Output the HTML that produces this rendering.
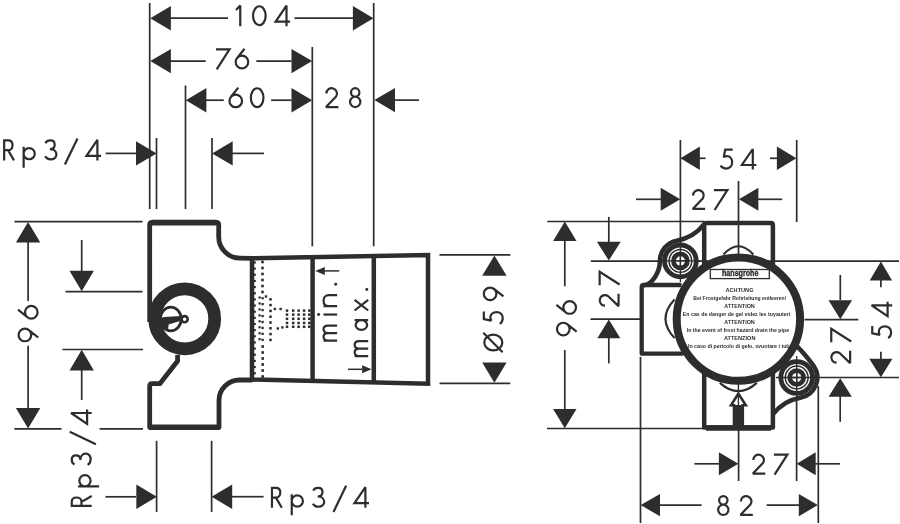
<!DOCTYPE html>
<html><head><meta charset="utf-8"><style>
html,body{margin:0;padding:0;background:#fff;}
svg{display:block;}
</style></head><body>
<svg width="900" height="524" viewBox="0 0 900 524" stroke="#2d2d2d" fill="none" stroke-linecap="butt">
<rect width="900" height="524" fill="#fff" stroke="none"/>
<line x1="149.7" y1="3" x2="149.7" y2="209" stroke-width="1.7"/>
<line x1="156.5" y1="138" x2="156.5" y2="209" stroke-width="1.7"/>
<line x1="185.5" y1="85.5" x2="185.5" y2="209" stroke-width="1.7"/>
<line x1="212" y1="138" x2="212" y2="209" stroke-width="1.7"/>
<line x1="312.3" y1="47" x2="312.3" y2="246.3" stroke-width="1.7"/>
<line x1="373.7" y1="3" x2="373.7" y2="246.3" stroke-width="1.7"/>
<line x1="170" y1="18.2" x2="228" y2="18.2" stroke-width="1.7"/>
<line x1="294.5" y1="18.2" x2="353" y2="18.2" stroke-width="1.7"/>
<polygon points="150.3,18.2 170.9,6 170.9,30.4" stroke="none" fill="#2d2d2d"/>
<polygon points="373.5,18.2 352.9,6 352.9,30.4" stroke="none" fill="#2d2d2d"/>
<path transform="translate(235.1 26.2)" d="M0.9 -16.3L5.15 -20.6V0" fill="none" stroke-width="2.2" stroke-miterlimit="2.2"/>
<path transform="translate(252 26.2)" d="M1.05 -10.5a6.3 9.45 0 1 0 12.6 0a6.3 9.45 0 1 0 -12.6 0" fill="none" stroke-width="2.2" stroke-miterlimit="2.2"/>
<path transform="translate(274.7 26.2)" d="M11.8 0V-20.6L0.9 -4.6H15.4" fill="none" stroke-width="2.2" stroke-miterlimit="2.2"/>
<line x1="170" y1="61.1" x2="205.7" y2="61.1" stroke-width="1.7"/>
<line x1="256.3" y1="61.1" x2="291.5" y2="61.1" stroke-width="1.7"/>
<polygon points="150.3,61.1 170.9,48.9 170.9,73.3" stroke="none" fill="#2d2d2d"/>
<polygon points="312.1,61.1 291.5,48.9 291.5,73.3" stroke="none" fill="#2d2d2d"/>
<path transform="translate(215.4 69.3)" d="M0.6 -19.95H14.1L1.3 0" fill="none" stroke-width="2.2" stroke-miterlimit="2.2"/>
<path transform="translate(234.6 69.3)" d="M1.05 -7.3a6.3 6.3 0 1 0 12.6 0a6.3 6.3 0 1 0 -12.6 0M9.9 -20.6L2.42 -11.23" fill="none" stroke-width="2.2" stroke-miterlimit="2.2"/>
<line x1="206" y1="100.2" x2="223.8" y2="100.2" stroke-width="1.7"/>
<line x1="271.1" y1="100.2" x2="291.5" y2="100.2" stroke-width="1.7"/>
<polygon points="185.8,100.2 206.4,88 206.4,112.4" stroke="none" fill="#2d2d2d"/>
<polygon points="312.1,100.2 291.5,88 291.5,112.4" stroke="none" fill="#2d2d2d"/>
<path transform="translate(228.4 108.2)" d="M1.05 -7.3a6.3 6.3 0 1 0 12.6 0a6.3 6.3 0 1 0 -12.6 0M9.9 -20.6L2.42 -11.23" fill="none" stroke-width="2.2" stroke-miterlimit="2.2"/>
<path transform="translate(249.8 108.2)" d="M1.05 -10.5a6.3 9.45 0 1 0 12.6 0a6.3 9.45 0 1 0 -12.6 0" fill="none" stroke-width="2.2" stroke-miterlimit="2.2"/>
<line x1="394" y1="100.1" x2="419" y2="100.1" stroke-width="1.7"/>
<polygon points="374.4,100.1 395,87.9 395,112.3" stroke="none" fill="#2d2d2d"/>
<path transform="translate(324.9 108.1)" d="M1.5 -14.6A5.3 5.3 0 1 1 11.14 -11.56L1.1 -1.05H13.5" fill="none" stroke-width="2.2" stroke-miterlimit="2.2"/>
<path transform="translate(349 108.1)" d="M2 -15.7a4.2 4.2 0 1 0 8.4 0a4.2 4.2 0 1 0 -8.4 0M1.05 -6.2a5.15 5.15 0 1 0 10.3 0a5.15 5.15 0 1 0 -10.3 0" fill="none" stroke-width="2.2" stroke-miterlimit="2.2"/>
<line x1="105.7" y1="153.4" x2="136.5" y2="153.4" stroke-width="1.7"/>
<polygon points="156.6,153.4 136,141.2 136,165.6" stroke="none" fill="#2d2d2d"/>
<line x1="232" y1="153.4" x2="264" y2="153.4" stroke-width="1.7"/>
<polygon points="212.1,153.4 232.7,141.2 232.7,165.6" stroke="none" fill="#2d2d2d"/>
<path transform="translate(3.1 160.4)" d="M1.05 0V-19.95H5.0C7.8 -19.95 9.4 -17.9 9.4 -15.2C9.4 -12.5 7.8 -10.2 5.0 -10.2H1.05M5.0 -10.2L10.9 0" fill="none" stroke-width="2.2" stroke-miterlimit="2.2"/>
<path transform="translate(22.6 160.4)" d="M1.05 7.4V-13.6M1 -6.75a5.6 5.6 0 1 0 11.2 0a5.6 5.6 0 1 0 -11.2 0" fill="none" stroke-width="2.2" stroke-miterlimit="2.2"/>
<path transform="translate(44.3 160.4)" d="M1.1 -17.2C2.1 -19.4 4.2 -19.95 6.1 -19.95C8.7 -19.95 10.4 -18.2 10.4 -15.7C10.4 -13.1 8.5 -11.3 5.6 -11.3C9.4 -11.3 12.1 -9.1 12.1 -5.9C12.1 -2.9 9.6 -1.05 6.4 -1.05C3.8 -1.05 1.8 -2.3 0.8 -4.1" fill="none" stroke-width="2.2" stroke-miterlimit="2.2"/>
<path transform="translate(64.2 160.4)" d="M13.3 -22L0.7 4.2" fill="none" stroke-width="2.2" stroke-miterlimit="2.2"/>
<path transform="translate(85.6 160.4)" d="M11.8 0V-20.6L0.9 -4.6H15.4" fill="none" stroke-width="2.2" stroke-miterlimit="2.2"/>
<line x1="14.5" y1="221.7" x2="142.5" y2="221.7" stroke-width="1.7"/>
<line x1="14.3" y1="428.9" x2="61.5" y2="428.9" stroke-width="1.7"/>
<line x1="99.6" y1="428.9" x2="143" y2="428.9" stroke-width="1.7"/>
<line x1="28.1" y1="242" x2="28.1" y2="301" stroke-width="1.7"/>
<line x1="28.1" y1="345.8" x2="28.1" y2="408" stroke-width="1.7"/>
<polygon points="28.1,221.9 15.9,242.5 40.3,242.5" stroke="none" fill="#2d2d2d"/>
<polygon points="28.1,428.5 15.9,407.9 40.3,407.9" stroke="none" fill="#2d2d2d"/>
<path transform="translate(38.6 342.3) rotate(-90)" d="M1.05 -13.7a6.3 6.3 0 1 0 12.6 0a6.3 6.3 0 1 0 -12.6 0M4.8 -0.4L12.28 -9.77" fill="none" stroke-width="2.2" stroke-miterlimit="2.2"/>
<path transform="translate(38.6 319.6) rotate(-90)" d="M1.05 -7.3a6.3 6.3 0 1 0 12.6 0a6.3 6.3 0 1 0 -12.6 0M9.9 -20.6L2.42 -11.23" fill="none" stroke-width="2.2" stroke-miterlimit="2.2"/>
<line x1="65.5" y1="291.7" x2="142.5" y2="291.7" stroke-width="1.7"/>
<line x1="62.4" y1="349.5" x2="143" y2="349.5" stroke-width="1.7"/>
<line x1="81.7" y1="240" x2="81.7" y2="271" stroke-width="1.7"/>
<polygon points="81.7,291.3 69.5,270.7 93.9,270.7" stroke="none" fill="#2d2d2d"/>
<line x1="81.7" y1="369" x2="81.7" y2="400" stroke-width="1.7"/>
<polygon points="81.7,349.8 69.5,370.4 93.9,370.4" stroke="none" fill="#2d2d2d"/>
<path transform="translate(91.7 506.9) rotate(-90)" d="M1.05 0V-19.95H5.0C7.8 -19.95 9.4 -17.9 9.4 -15.2C9.4 -12.5 7.8 -10.2 5.0 -10.2H1.05M5.0 -10.2L10.9 0" fill="none" stroke-width="2.2" stroke-miterlimit="2.2"/>
<path transform="translate(91.7 487.4) rotate(-90)" d="M1.05 7.4V-13.6M1 -6.75a5.6 5.6 0 1 0 11.2 0a5.6 5.6 0 1 0 -11.2 0" fill="none" stroke-width="2.2" stroke-miterlimit="2.2"/>
<path transform="translate(91.7 465.7) rotate(-90)" d="M1.1 -17.2C2.1 -19.4 4.2 -19.95 6.1 -19.95C8.7 -19.95 10.4 -18.2 10.4 -15.7C10.4 -13.1 8.5 -11.3 5.6 -11.3C9.4 -11.3 12.1 -9.1 12.1 -5.9C12.1 -2.9 9.6 -1.05 6.4 -1.05C3.8 -1.05 1.8 -2.3 0.8 -4.1" fill="none" stroke-width="2.2" stroke-miterlimit="2.2"/>
<path transform="translate(91.7 445) rotate(-90)" d="M13.3 -22L0.7 4.2" fill="none" stroke-width="2.2" stroke-miterlimit="2.2"/>
<path transform="translate(91.7 424.8) rotate(-90)" d="M11.8 0V-20.6L0.9 -4.6H15.4" fill="none" stroke-width="2.2" stroke-miterlimit="2.2"/>
<line x1="156.6" y1="440.8" x2="156.6" y2="511.9" stroke-width="1.7"/>
<line x1="211.6" y1="440.8" x2="211.6" y2="511.9" stroke-width="1.7"/>
<line x1="105.5" y1="496.8" x2="136" y2="496.8" stroke-width="1.7"/>
<polygon points="156.9,496.8 136.3,484.6 136.3,509" stroke="none" fill="#2d2d2d"/>
<line x1="232" y1="496.7" x2="263.6" y2="496.7" stroke-width="1.7"/>
<polygon points="211.6,496.7 232.2,484.5 232.2,508.9" stroke="none" fill="#2d2d2d"/>
<path transform="translate(270.9 507.8)" d="M1.05 0V-19.95H5.0C7.8 -19.95 9.4 -17.9 9.4 -15.2C9.4 -12.5 7.8 -10.2 5.0 -10.2H1.05M5.0 -10.2L10.9 0" fill="none" stroke-width="2.2" stroke-miterlimit="2.2"/>
<path transform="translate(290.7 507.8)" d="M1.05 7.4V-13.6M1 -6.75a5.6 5.6 0 1 0 11.2 0a5.6 5.6 0 1 0 -11.2 0" fill="none" stroke-width="2.2" stroke-miterlimit="2.2"/>
<path transform="translate(312.1 507.8)" d="M1.1 -17.2C2.1 -19.4 4.2 -19.95 6.1 -19.95C8.7 -19.95 10.4 -18.2 10.4 -15.7C10.4 -13.1 8.5 -11.3 5.6 -11.3C9.4 -11.3 12.1 -9.1 12.1 -5.9C12.1 -2.9 9.6 -1.05 6.4 -1.05C3.8 -1.05 1.8 -2.3 0.8 -4.1" fill="none" stroke-width="2.2" stroke-miterlimit="2.2"/>
<path transform="translate(332.8 507.8)" d="M13.3 -22L0.7 4.2" fill="none" stroke-width="2.2" stroke-miterlimit="2.2"/>
<path transform="translate(353.6 507.8)" d="M11.8 0V-20.6L0.9 -4.6H15.4" fill="none" stroke-width="2.2" stroke-miterlimit="2.2"/>
<line x1="439.5" y1="254.9" x2="510.3" y2="254.9" stroke-width="1.7"/>
<line x1="439.5" y1="383.3" x2="510.3" y2="383.3" stroke-width="1.7"/>
<polygon points="494.4,255.6 482.2,275.7 506.6,275.7" stroke="none" fill="#2d2d2d"/>
<polygon points="494.4,382.7 482.2,362.6 506.6,362.6" stroke="none" fill="#2d2d2d"/>
<path transform="translate(503.8 352.5) rotate(-90)" d="M2.1 -10.5a7.9 9 0 1 0 15.8 0a7.9 9 0 1 0 -15.8 0M0.3 -1.2L19.7 -20.5" fill="none" stroke-width="2.2" stroke-miterlimit="2.2"/>
<path transform="translate(503.8 324.9) rotate(-90)" d="M13.3 -19.95H5.8L4.3 -12.4C5.3 -13.1 6.3 -13.4 7.4 -13.4C10.7 -13.4 12.75 -10.8 12.75 -7.2C12.75 -3.5 10.3 -1.05 7.0 -1.05C4.4 -1.05 2.3 -2.3 1.1 -4.0" fill="none" stroke-width="2.2" stroke-miterlimit="2.2"/>
<path transform="translate(503.8 301.2) rotate(-90)" d="M1.05 -13.7a6.3 6.3 0 1 0 12.6 0a6.3 6.3 0 1 0 -12.6 0M4.8 -0.4L12.28 -9.77" fill="none" stroke-width="2.2" stroke-miterlimit="2.2"/>
<path d="M252.3 258.4 L240.2 258.2 A21.5 21.5 0 0 1 218.7 236.7 V224.8 Q218.7 222.5 216.4 222.5 H152 Q149.7 222.5 149.7 224.8 V322" fill="none" stroke-width="4.8" stroke-linejoin="round"/>
<path d="M177.6 355 V361 L159.8 383.7 H152 Q149.7 383.7 149.7 386 V427.5 H219 V400.5 A20.5 20.5 0 0 1 239.5 380 H252.3" fill="none" stroke-width="4.8" stroke-linejoin="round"/>
<path d="M152 222.6 H216.4 M152 427.3 H217" stroke-width="5.6"/>
<circle cx="184.7" cy="318.8" r="30" fill="none" stroke-width="12.8"/>
<ellipse cx="170.8" cy="319" rx="10.4" ry="11.9" fill="none" stroke-width="2.8"/>
<circle cx="184.6" cy="319.2" r="3.1" fill="none" stroke-width="2.6"/>
<polygon points="164.6,316.9 180.5,315.9 181.5,320.4 168.6,324.4 168,331 160.3,327 160.3,318" stroke="none" fill="#2d2d2d"/>
<path d="M252 258.26 L428 254.92 L428 383.7 L252 379.56 Z" fill="none" stroke-width="4.5" stroke-linejoin="miter"/>
<line x1="312.6" y1="257.11" x2="312.6" y2="380.99" stroke-width="4.5"/>
<line x1="373.8" y1="255.95" x2="373.8" y2="382.43" stroke-width="4.5"/>
<rect x="253.6" y="261.4" width="2.2" height="2.2" stroke="none" fill="#2d2d2d"/>
<rect x="253.6" y="267.55" width="2.2" height="2.2" stroke="none" fill="#2d2d2d"/>
<rect x="253.6" y="273.7" width="2.2" height="2.2" stroke="none" fill="#2d2d2d"/>
<rect x="253.6" y="279.85" width="2.2" height="2.2" stroke="none" fill="#2d2d2d"/>
<rect x="253.6" y="286" width="2.2" height="2.2" stroke="none" fill="#2d2d2d"/>
<rect x="253.6" y="292.15" width="2.2" height="2.2" stroke="none" fill="#2d2d2d"/>
<rect x="253.6" y="298.3" width="2.2" height="2.2" stroke="none" fill="#2d2d2d"/>
<rect x="253.6" y="304.45" width="2.2" height="2.2" stroke="none" fill="#2d2d2d"/>
<rect x="253.6" y="310.6" width="2.2" height="2.2" stroke="none" fill="#2d2d2d"/>
<rect x="253.6" y="316.75" width="2.2" height="2.2" stroke="none" fill="#2d2d2d"/>
<rect x="253.6" y="322.9" width="2.2" height="2.2" stroke="none" fill="#2d2d2d"/>
<rect x="253.6" y="329.05" width="2.2" height="2.2" stroke="none" fill="#2d2d2d"/>
<rect x="253.6" y="335.2" width="2.2" height="2.2" stroke="none" fill="#2d2d2d"/>
<rect x="253.6" y="341.35" width="2.2" height="2.2" stroke="none" fill="#2d2d2d"/>
<rect x="253.6" y="347.5" width="2.2" height="2.2" stroke="none" fill="#2d2d2d"/>
<rect x="253.6" y="353.65" width="2.2" height="2.2" stroke="none" fill="#2d2d2d"/>
<rect x="253.6" y="359.8" width="2.2" height="2.2" stroke="none" fill="#2d2d2d"/>
<rect x="253.6" y="365.95" width="2.2" height="2.2" stroke="none" fill="#2d2d2d"/>
<rect x="253.6" y="372.1" width="2.2" height="2.2" stroke="none" fill="#2d2d2d"/>
<rect x="261.2" y="260.7" width="2.6" height="2.6" stroke="none" fill="#2d2d2d"/>
<rect x="261.2" y="266.7" width="2.6" height="2.6" stroke="none" fill="#2d2d2d"/>
<rect x="261.2" y="272.7" width="2.6" height="2.6" stroke="none" fill="#2d2d2d"/>
<rect x="261.2" y="278.7" width="2.6" height="2.6" stroke="none" fill="#2d2d2d"/>
<rect x="261.2" y="284.7" width="2.6" height="2.6" stroke="none" fill="#2d2d2d"/>
<rect x="261.2" y="290.7" width="2.6" height="2.6" stroke="none" fill="#2d2d2d"/>
<rect x="258.5" y="296.4" width="2.2" height="2.2" stroke="none" fill="#2d2d2d"/>
<rect x="261.45" y="297.05" width="2.3" height="2.3" stroke="none" fill="#2d2d2d"/>
<rect x="269.25" y="298.05" width="2.5" height="2.5" stroke="none" fill="#2d2d2d"/>
<rect x="258.5" y="302.35" width="2.2" height="2.2" stroke="none" fill="#2d2d2d"/>
<rect x="261.45" y="303" width="2.3" height="2.3" stroke="none" fill="#2d2d2d"/>
<rect x="269.25" y="303.85" width="2.5" height="2.5" stroke="none" fill="#2d2d2d"/>
<rect x="258.5" y="308.3" width="2.2" height="2.2" stroke="none" fill="#2d2d2d"/>
<rect x="261.45" y="308.95" width="2.3" height="2.3" stroke="none" fill="#2d2d2d"/>
<rect x="269.25" y="309.65" width="2.5" height="2.5" stroke="none" fill="#2d2d2d"/>
<rect x="258.5" y="314.25" width="2.2" height="2.2" stroke="none" fill="#2d2d2d"/>
<rect x="261.45" y="314.9" width="2.3" height="2.3" stroke="none" fill="#2d2d2d"/>
<rect x="269.25" y="315.45" width="2.5" height="2.5" stroke="none" fill="#2d2d2d"/>
<rect x="258.5" y="320.2" width="2.2" height="2.2" stroke="none" fill="#2d2d2d"/>
<rect x="261.45" y="320.85" width="2.3" height="2.3" stroke="none" fill="#2d2d2d"/>
<rect x="269.25" y="321.25" width="2.5" height="2.5" stroke="none" fill="#2d2d2d"/>
<rect x="258.5" y="326.15" width="2.2" height="2.2" stroke="none" fill="#2d2d2d"/>
<rect x="261.45" y="326.8" width="2.3" height="2.3" stroke="none" fill="#2d2d2d"/>
<rect x="269.25" y="327.05" width="2.5" height="2.5" stroke="none" fill="#2d2d2d"/>
<rect x="258.5" y="332.1" width="2.2" height="2.2" stroke="none" fill="#2d2d2d"/>
<rect x="261.45" y="332.75" width="2.3" height="2.3" stroke="none" fill="#2d2d2d"/>
<rect x="269.25" y="332.85" width="2.5" height="2.5" stroke="none" fill="#2d2d2d"/>
<rect x="258.5" y="338.05" width="2.2" height="2.2" stroke="none" fill="#2d2d2d"/>
<rect x="261.45" y="338.7" width="2.3" height="2.3" stroke="none" fill="#2d2d2d"/>
<rect x="269.25" y="338.65" width="2.5" height="2.5" stroke="none" fill="#2d2d2d"/>
<rect x="261.4" y="345.2" width="2.6" height="2.6" stroke="none" fill="#2d2d2d"/>
<rect x="261.4" y="351.2" width="2.6" height="2.6" stroke="none" fill="#2d2d2d"/>
<rect x="261.4" y="357.2" width="2.6" height="2.6" stroke="none" fill="#2d2d2d"/>
<rect x="261.4" y="363.2" width="2.6" height="2.6" stroke="none" fill="#2d2d2d"/>
<rect x="261.4" y="369.2" width="2.6" height="2.6" stroke="none" fill="#2d2d2d"/>
<rect x="261.4" y="375.2" width="2.6" height="2.6" stroke="none" fill="#2d2d2d"/>
<rect x="264.8" y="295.3" width="2.4" height="2.4" stroke="none" fill="#2d2d2d"/>
<rect x="273.7" y="307.8" width="2.4" height="2.4" stroke="none" fill="#2d2d2d"/>
<rect x="279.4" y="307.8" width="2.4" height="2.4" stroke="none" fill="#2d2d2d"/>
<rect x="276.6" y="327.3" width="2.4" height="2.4" stroke="none" fill="#2d2d2d"/>
<rect x="281.2" y="326.2" width="2.4" height="2.4" stroke="none" fill="#2d2d2d"/>
<rect x="285.75" y="309.35" width="2.5" height="2.5" stroke="none" fill="#2d2d2d"/>
<rect x="285.75" y="313.35" width="2.5" height="2.5" stroke="none" fill="#2d2d2d"/>
<rect x="285.75" y="317.55" width="2.5" height="2.5" stroke="none" fill="#2d2d2d"/>
<rect x="285.75" y="321.75" width="2.5" height="2.5" stroke="none" fill="#2d2d2d"/>
<rect x="285.75" y="325.55" width="2.5" height="2.5" stroke="none" fill="#2d2d2d"/>
<rect x="291.95" y="309.35" width="2.5" height="2.5" stroke="none" fill="#2d2d2d"/>
<rect x="291.95" y="313.35" width="2.5" height="2.5" stroke="none" fill="#2d2d2d"/>
<rect x="291.95" y="317.55" width="2.5" height="2.5" stroke="none" fill="#2d2d2d"/>
<rect x="291.95" y="321.75" width="2.5" height="2.5" stroke="none" fill="#2d2d2d"/>
<rect x="291.95" y="325.55" width="2.5" height="2.5" stroke="none" fill="#2d2d2d"/>
<rect x="297.35" y="309.35" width="2.5" height="2.5" stroke="none" fill="#2d2d2d"/>
<rect x="297.35" y="313.35" width="2.5" height="2.5" stroke="none" fill="#2d2d2d"/>
<rect x="297.35" y="317.55" width="2.5" height="2.5" stroke="none" fill="#2d2d2d"/>
<rect x="297.35" y="321.75" width="2.5" height="2.5" stroke="none" fill="#2d2d2d"/>
<rect x="297.35" y="325.55" width="2.5" height="2.5" stroke="none" fill="#2d2d2d"/>
<rect x="302.85" y="309.35" width="2.5" height="2.5" stroke="none" fill="#2d2d2d"/>
<rect x="302.85" y="313.35" width="2.5" height="2.5" stroke="none" fill="#2d2d2d"/>
<rect x="302.85" y="317.55" width="2.5" height="2.5" stroke="none" fill="#2d2d2d"/>
<rect x="302.85" y="321.75" width="2.5" height="2.5" stroke="none" fill="#2d2d2d"/>
<rect x="302.85" y="325.55" width="2.5" height="2.5" stroke="none" fill="#2d2d2d"/>
<rect x="308.05" y="309.35" width="2.5" height="2.5" stroke="none" fill="#2d2d2d"/>
<rect x="308.05" y="313.35" width="2.5" height="2.5" stroke="none" fill="#2d2d2d"/>
<rect x="308.05" y="317.55" width="2.5" height="2.5" stroke="none" fill="#2d2d2d"/>
<rect x="308.05" y="321.75" width="2.5" height="2.5" stroke="none" fill="#2d2d2d"/>
<rect x="308.05" y="325.55" width="2.5" height="2.5" stroke="none" fill="#2d2d2d"/>
<line x1="324" y1="270.9" x2="339.2" y2="270.9" stroke-width="1.5"/>
<polygon points="315.3,270.9 324.8,266.9 324.8,274.9" stroke="none" fill="#2d2d2d"/>
<line x1="348" y1="369.3" x2="362" y2="369.3" stroke-width="1.5"/>
<polygon points="371.6,369.3 362.1,365.3 362.1,373.3" stroke="none" fill="#2d2d2d"/>
<path transform="translate(337.1 341.7) rotate(-90)" d="M1.05 0V-13.6M1.05 -9.3C1.05 -12.1 2.6 -13.55 4.85 -13.55C7.1 -13.55 8.6 -12.1 8.6 -9.3V0M8.6 -9.3C8.6 -12.1 10.1 -13.55 12.4 -13.55C14.6 -13.55 16.15 -12.1 16.15 -9.3V0" fill="none" stroke-width="2.2" stroke-miterlimit="2.2"/>
<path transform="translate(337.1 315.6) rotate(-90)" d="M1.05 0V-13.6" fill="none" stroke-width="2.2" stroke-miterlimit="2.2"/>
<circle transform="translate(337.1 315.6) rotate(-90)" cx="1.05" cy="-18.5" r="1.45" stroke="none" fill="#2d2d2d"/>
<path transform="translate(337.1 307.2) rotate(-90)" d="M1.05 0V-13.6M1.05 -8.3C1.05 -11.7 3.2 -13.55 6.55 -13.55C9.9 -13.55 12.05 -11.7 12.05 -8.3V0" fill="none" stroke-width="2.2" stroke-miterlimit="2.2"/>
<circle transform="translate(337.1 285.6) rotate(-90)" cx="1.4" cy="-1.4" r="1.45" stroke="none" fill="#2d2d2d"/>
<path transform="translate(368.2 357.2) rotate(-90)" d="M1.05 0V-13.6M1.05 -9.3C1.05 -12.1 2.6 -13.55 4.85 -13.55C7.1 -13.55 8.6 -12.1 8.6 -9.3V0M8.6 -9.3C8.6 -12.1 10.1 -13.55 12.4 -13.55C14.6 -13.55 16.15 -12.1 16.15 -9.3V0" fill="none" stroke-width="2.2" stroke-miterlimit="2.2"/>
<path transform="translate(368.2 331) rotate(-90)" d="M1.05 -6.8a4.85 5.75 0 1 0 9.7 0a4.85 5.75 0 1 0 -9.7 0M10.85 -13.6V0" fill="none" stroke-width="2.2" stroke-miterlimit="2.2"/>
<path transform="translate(368.2 311.3) rotate(-90)" d="M0.8 -13.6L11.4 0M11.4 -13.6L0.8 0" fill="none" stroke-width="2.2" stroke-miterlimit="2.2"/>
<circle transform="translate(368.2 290.9) rotate(-90)" cx="1.4" cy="-1.4" r="1.45" stroke="none" fill="#2d2d2d"/>
<line x1="680.4" y1="140" x2="680.4" y2="262" stroke-width="1.7"/>
<line x1="796.7" y1="140" x2="796.7" y2="222" stroke-width="1.7"/>
<line x1="738.5" y1="181" x2="738.5" y2="255" stroke-width="1.7"/>
<polygon points="680.4,158.3 699.9,146.6 699.9,170" stroke="none" fill="#2d2d2d"/>
<line x1="699" y1="158.3" x2="705.6" y2="158.3" stroke-width="1.7"/>
<polygon points="796.4,158.3 776.9,146.6 776.9,170" stroke="none" fill="#2d2d2d"/>
<line x1="770" y1="158.3" x2="777.5" y2="158.3" stroke-width="1.7"/>
<path transform="translate(719.4 169.6)" d="M13.3 -19.95H5.8L4.3 -12.4C5.3 -13.1 6.3 -13.4 7.4 -13.4C10.7 -13.4 12.75 -10.8 12.75 -7.2C12.75 -3.5 10.3 -1.05 7.0 -1.05C4.4 -1.05 2.3 -2.3 1.1 -4.0" fill="none" stroke-width="2.2" stroke-miterlimit="2.2"/>
<path transform="translate(741 169.6)" d="M11.8 0V-20.6L0.9 -4.6H15.4" fill="none" stroke-width="2.2" stroke-miterlimit="2.2"/>
<line x1="636" y1="199.3" x2="662" y2="199.3" stroke-width="1.7"/>
<polygon points="680.2,199.3 660.7,187.8 660.7,210.8" stroke="none" fill="#2d2d2d"/>
<line x1="757" y1="199.3" x2="782.2" y2="199.3" stroke-width="1.7"/>
<polygon points="738.9,199.3 758.4,187.8 758.4,210.8" stroke="none" fill="#2d2d2d"/>
<path transform="translate(691.6 210)" d="M1.5 -14.6A5.3 5.3 0 1 1 11.14 -11.56L1.1 -1.05H13.5" fill="none" stroke-width="2.2" stroke-miterlimit="2.2"/>
<path transform="translate(713.3 210)" d="M0.6 -19.95H14.1L1.3 0" fill="none" stroke-width="2.2" stroke-miterlimit="2.2"/>
<line x1="547.3" y1="221.5" x2="704" y2="221.5" stroke-width="1.7"/>
<line x1="547" y1="428.5" x2="704" y2="428.5" stroke-width="1.7"/>
<polygon points="564.8,221.6 553.1,240.9 576.5,240.9" stroke="none" fill="#2d2d2d"/>
<line x1="564.8" y1="240" x2="564.8" y2="286.3" stroke-width="1.7"/>
<line x1="564.8" y1="350" x2="564.8" y2="409" stroke-width="1.7"/>
<polygon points="564.8,428.3 553.1,409 576.5,409" stroke="none" fill="#2d2d2d"/>
<path transform="translate(577 336.4) rotate(-90)" d="M1.05 -13.7a6.3 6.3 0 1 0 12.6 0a6.3 6.3 0 1 0 -12.6 0M4.8 -0.4L12.28 -9.77" fill="none" stroke-width="2.2" stroke-miterlimit="2.2"/>
<path transform="translate(577 314.8) rotate(-90)" d="M1.05 -7.3a6.3 6.3 0 1 0 12.6 0a6.3 6.3 0 1 0 -12.6 0M9.9 -20.6L2.42 -11.23" fill="none" stroke-width="2.2" stroke-miterlimit="2.2"/>
<line x1="590.8" y1="261.1" x2="899" y2="261.1" stroke-width="1.7"/>
<line x1="608.8" y1="216.9" x2="608.8" y2="242" stroke-width="1.7"/>
<polygon points="608.8,260.6 596.9,241.7 620.7,241.7" stroke="none" fill="#2d2d2d"/>
<line x1="590.5" y1="319.2" x2="640" y2="319.2" stroke-width="1.7"/>
<polygon points="608.8,319.4 597.3,338.3 620.3,338.3" stroke="none" fill="#2d2d2d"/>
<line x1="608.8" y1="338" x2="608.8" y2="363.4" stroke-width="1.7"/>
<path transform="translate(619.6 307.2) rotate(-90)" d="M1.5 -14.6A5.3 5.3 0 1 1 11.14 -11.56L1.1 -1.05H13.5" fill="none" stroke-width="2.2" stroke-miterlimit="2.2"/>
<path transform="translate(619.6 285.8) rotate(-90)" d="M0.6 -19.95H14.1L1.3 0" fill="none" stroke-width="2.2" stroke-miterlimit="2.2"/>
<line x1="804.6" y1="319.6" x2="858.3" y2="319.6" stroke-width="1.7"/>
<line x1="815" y1="377.5" x2="899" y2="377.5" stroke-width="1.7"/>
<line x1="840.3" y1="275" x2="840.3" y2="300" stroke-width="1.7"/>
<polygon points="840.3,319.2 828.5,300.3 852.1,300.3" stroke="none" fill="#2d2d2d"/>
<polygon points="840.2,378.2 828.6,396.7 851.8,396.7" stroke="none" fill="#2d2d2d"/>
<line x1="840.2" y1="396" x2="840.2" y2="421.8" stroke-width="1.7"/>
<path transform="translate(851.2 364.2) rotate(-90)" d="M1.5 -14.6A5.3 5.3 0 1 1 11.14 -11.56L1.1 -1.05H13.5" fill="none" stroke-width="2.2" stroke-miterlimit="2.2"/>
<path transform="translate(851.2 342.8) rotate(-90)" d="M0.6 -19.95H14.1L1.3 0" fill="none" stroke-width="2.2" stroke-miterlimit="2.2"/>
<polygon points="880.9,261.4 869.7,280.6 892.1,280.6" stroke="none" fill="#2d2d2d"/>
<line x1="880.9" y1="280" x2="880.9" y2="287.3" stroke-width="1.7"/>
<line x1="880.9" y1="351.8" x2="880.9" y2="359" stroke-width="1.7"/>
<polygon points="880.9,377.3 869.3,358.7 892.5,358.7" stroke="none" fill="#2d2d2d"/>
<path transform="translate(892.2 339.2) rotate(-90)" d="M13.3 -19.95H5.8L4.3 -12.4C5.3 -13.1 6.3 -13.4 7.4 -13.4C10.7 -13.4 12.75 -10.8 12.75 -7.2C12.75 -3.5 10.3 -1.05 7.0 -1.05C4.4 -1.05 2.3 -2.3 1.1 -4.0" fill="none" stroke-width="2.2" stroke-miterlimit="2.2"/>
<path transform="translate(892.2 317.1) rotate(-90)" d="M11.8 0V-20.6L0.9 -4.6H15.4" fill="none" stroke-width="2.2" stroke-miterlimit="2.2"/>
<line x1="640.5" y1="356.8" x2="640.5" y2="523" stroke-width="1.7"/>
<line x1="818.3" y1="386" x2="818.3" y2="523" stroke-width="1.7"/>
<line x1="738.6" y1="428" x2="738.6" y2="481" stroke-width="1.7"/>
<line x1="796.6" y1="400" x2="796.6" y2="481" stroke-width="1.7"/>
<line x1="694.4" y1="463.8" x2="720" y2="463.8" stroke-width="1.7"/>
<polygon points="738.4,463.8 718.9,452.3 718.9,475.3" stroke="none" fill="#2d2d2d"/>
<line x1="815" y1="463.8" x2="840" y2="463.8" stroke-width="1.7"/>
<polygon points="796.7,463.8 815.7,452.3 815.7,475.3" stroke="none" fill="#2d2d2d"/>
<path transform="translate(751.8 474.6)" d="M1.5 -14.6A5.3 5.3 0 1 1 11.14 -11.56L1.1 -1.05H13.5" fill="none" stroke-width="2.2" stroke-miterlimit="2.2"/>
<path transform="translate(773.3 474.6)" d="M0.6 -19.95H14.1L1.3 0" fill="none" stroke-width="2.2" stroke-miterlimit="2.2"/>
<line x1="659" y1="505.1" x2="701.6" y2="505.1" stroke-width="1.7"/>
<polygon points="640.7,505.1 660,493.9 660,516.3" stroke="none" fill="#2d2d2d"/>
<line x1="766.7" y1="505.1" x2="799.5" y2="505.1" stroke-width="1.7"/>
<polygon points="817.8,505.1 798.8,493.9 798.8,516.3" stroke="none" fill="#2d2d2d"/>
<path transform="translate(717.1 516)" d="M2 -15.7a4.2 4.2 0 1 0 8.4 0a4.2 4.2 0 1 0 -8.4 0M1.05 -6.2a5.15 5.15 0 1 0 10.3 0a5.15 5.15 0 1 0 -10.3 0" fill="none" stroke-width="2.2" stroke-miterlimit="2.2"/>
<path transform="translate(739.3 516)" d="M1.5 -14.6A5.3 5.3 0 1 1 11.14 -11.56L1.1 -1.05H13.5" fill="none" stroke-width="2.2" stroke-miterlimit="2.2"/>
<path d="M704.2 275 V225 Q704.2 222.9 706.3 222.9 H770.8 Q772.9 222.9 772.9 225 V275" fill="none" stroke-width="4.5"/>
<path d="M704.2 365 V427.4 H772.9 V365" fill="none" stroke-width="4.5" stroke-linejoin="round"/>
<path d="M706 428 H771" stroke-width="5.4"/>
<path d="M681.5 285 H644 Q641.7 285 641.7 287.3 V353.7 H683" fill="none" stroke-width="4.3" stroke-linejoin="round"/>
<path d="M674.5 299.5 Q656.5 318.8 674.5 338" fill="none" stroke-width="2.1"/>
<path d="M723.5 254.5 Q738.4 238 753.3 254.5" fill="none" stroke-width="2.1"/>
<path d="M719.8 382.9 Q738.4 399.5 756.8 382.9" fill="none" stroke-width="2.1"/>
<path d="M704.2 224.2 A44.7 44.7 0 0 1 676.8 240.7 A20.5 20.5 0 0 0 659.9 260.9 C659.9 272 652 285.2 643.5 285.2" fill="none" stroke-width="4.6"/>
<path d="M794.5 344.3 C799.5 347.6 810.1 360.8 813.5 365.7 A20.5 20.5 0 0 1 800.3 397.7 A44.7 44.7 0 0 0 772.9 414.2" fill="none" stroke-width="4.6"/>
<circle cx="680.4" cy="260.9" r="18.3" stroke="none" fill="#2d2d2d"/>
<circle cx="680.4" cy="260.9" r="12.8" fill="none" stroke="#fff" stroke-width="1.3"/>
<circle cx="680.4" cy="260.9" r="10" fill="none" stroke="#fff" stroke-width="1.3"/>
<circle cx="680.4" cy="260.9" r="4.6" stroke="none" fill="#fff"/>
<path d="M675.8 260.9H685.0M680.4 256.29999999999995V265.5" stroke-width="1.4"/>
<circle cx="796.7" cy="377.5" r="18.3" stroke="none" fill="#2d2d2d"/>
<circle cx="796.7" cy="377.5" r="12.8" fill="none" stroke="#fff" stroke-width="1.3"/>
<circle cx="796.7" cy="377.5" r="10" fill="none" stroke="#fff" stroke-width="1.3"/>
<circle cx="796.7" cy="377.5" r="4.6" stroke="none" fill="#fff"/>
<path d="M792.1 377.5H801.3000000000001M796.7 372.9V382.1" stroke-width="1.4"/>
<circle cx="738.4" cy="319.1" r="61.7" fill="#fff" stroke-width="8"/>
<path d="M734 427 V405.3 H731 L738.4 393.6 L745.8 405.3 H742.8 V427" fill="none" stroke-width="2.6" stroke-linejoin="miter"/>
<rect x="734.5" y="405" width="7.8" height="22" stroke="none" fill="#2d2d2d"/>
<line x1="738.4" y1="380" x2="738.4" y2="428" stroke-width="1.4"/>
<rect x="710.3" y="269.5" width="59" height="9.1" fill="none" stroke-width="1.3"/>
<text x="740.2" y="276.4" font-family="Liberation Sans" font-weight="bold" font-size="8.6" text-anchor="middle" textLength="36.5" lengthAdjust="spacingAndGlyphs" stroke="#2d2d2d" stroke-width="0.35" fill="#2d2d2d" style="filter:grayscale(1)">hansgrohe</text>
<g style="filter:grayscale(1)">
<text x="739.5" y="292" font-family="Liberation Sans" font-weight="bold" font-size="6.1" text-anchor="middle" textLength="28" lengthAdjust="spacingAndGlyphs" stroke="none" fill="#2d2d2d">ACHTUNG</text>
<text x="739.8" y="299.8" font-family="Liberation Sans" font-weight="bold" font-size="6.1" text-anchor="middle" textLength="93" lengthAdjust="spacingAndGlyphs" stroke="none" fill="#2d2d2d">Bei Frostgefahr Rohrleitung entleeren!</text>
<text x="739.5" y="307.8" font-family="Liberation Sans" font-weight="bold" font-size="6.1" text-anchor="middle" textLength="30.5" lengthAdjust="spacingAndGlyphs" stroke="none" fill="#2d2d2d">ATTENTION</text>
<text x="736.5" y="315.8" font-family="Liberation Sans" font-weight="bold" font-size="6.1" text-anchor="middle" textLength="107.5" lengthAdjust="spacingAndGlyphs" stroke="none" fill="#2d2d2d">En cas de danger de gel videz les tuyauteri</text>
<text x="739.5" y="323.8" font-family="Liberation Sans" font-weight="bold" font-size="6.1" text-anchor="middle" textLength="30.5" lengthAdjust="spacingAndGlyphs" stroke="none" fill="#2d2d2d">ATTENTION</text>
<text x="737.9" y="331.9" font-family="Liberation Sans" font-weight="bold" font-size="6.1" text-anchor="middle" textLength="102.3" lengthAdjust="spacingAndGlyphs" stroke="none" fill="#2d2d2d">In the event of frost hazard drain the pipe</text>
<text x="739.7" y="339.5" font-family="Liberation Sans" font-weight="bold" font-size="6.1" text-anchor="middle" textLength="31.5" lengthAdjust="spacingAndGlyphs" stroke="none" fill="#2d2d2d">ATTENZION</text>
<text x="739.5" y="347.5" font-family="Liberation Sans" font-weight="bold" font-size="6.1" text-anchor="middle" textLength="103" lengthAdjust="spacingAndGlyphs" stroke="none" fill="#2d2d2d">In caso di pericolo di gelo, svuotare i tubi</text>
</g>
<line x1="680.4" y1="240" x2="680.4" y2="282" stroke-width="1.3"/>
<line x1="660" y1="260.9" x2="700" y2="260.9" stroke-width="1.3"/>
<line x1="796.7" y1="356" x2="796.7" y2="399" stroke-width="1.3"/>
<line x1="776" y1="377.5" x2="817" y2="377.5" stroke-width="1.3"/>
</svg>
</body></html>
